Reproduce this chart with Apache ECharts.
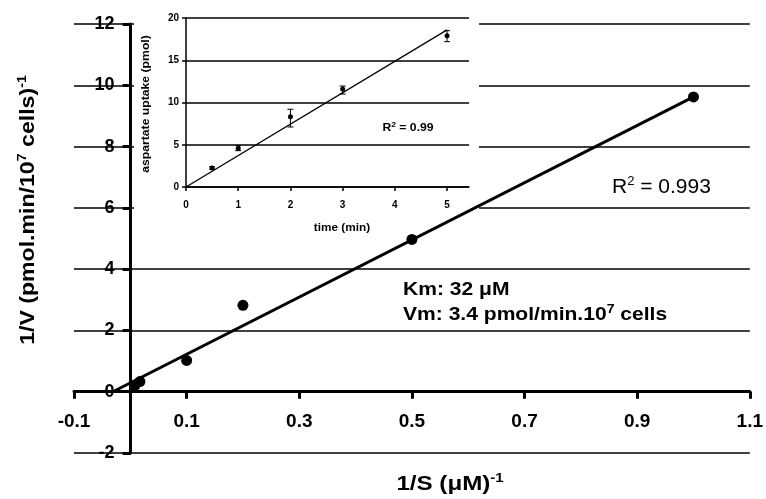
<!DOCTYPE html>
<html>
<head>
<meta charset="utf-8">
<script src="https://cdn.jsdelivr.net/npm/echarts@6/dist/echarts.min.js"></script>
<style>
html, body { margin: 0; padding: 0; background: #fff; }
#main { width: 766px; height: 499px; }
</style>
</head>
<body>
<div id="main"></div>
<script>
var FONT = '"Liberation Sans", Arial, sans-serif';

// main plot: 1/V against 1/S
var invS = [0.008, 0.017, 0.1, 0.2, 0.5, 1.0];
var invV = [0.2, 0.33, 1.02, 2.82, 4.97, 9.62];
// regression line end points
var fitX = [-0.031, 1.0];
var fitY = [0, 9.62];

// inset: aspartate uptake against time
var time = [0.5, 1, 2, 3, 5];
var uptake = [2.25, 4.6, 8.3, 11.6, 17.9];
var errLow = [2.1, 4.3, 7.1, 11.0, 17.2];
var errHigh = [2.4, 4.9, 9.2, 11.95, 18.5];
var insetFitX = [0, 5];
var insetFitY = [0, 18.6];
var insetXTicks = [0, 1, 2, 3, 4, 5];

var myChart = echarts.init(document.getElementById('main'));

var boldLabel = function (size) {
    return { color: '#000', fontSize: size, fontWeight: 'bold', fontFamily: FONT };
};

// the main axes cross at zero: shift them in from the grid edges
// grid is 679 x 429 px for x -0.1..1.1 and y -2..12
var xZeroShift = -(2 / 14) * 429;
var yZeroShift = -(0.1 / 1.2) * 679;

option = {
    backgroundColor: '#fff',
    animation: false,
    grid: [
        { left: 74, right: 13, top: 24, bottom: 46 },
        // inset
        { left: 186, right: 297, top: 18, bottom: 312 }
    ],
    xAxis: [{
        type: 'value', gridIndex: 0, min: -0.1, max: 1.1, interval: 0.2,
        offset: xZeroShift,
        axisLine: { onZero: false, lineStyle: { color: '#000', width: 3 } },
        axisTick: { show: true, length: 7, lineStyle: { color: '#000', width: 3 } },
        axisLabel: Object.assign(boldLabel(19), {
            margin: 21,
            formatter: function (v) { return v.toFixed(1); }
        }),
        splitLine: { show: false }
    }, {
        type: 'value', gridIndex: 1, min: 0, max: 5.42, z: 5,
        axisLine: { lineStyle: { color: '#000', width: 1.5 } },
        axisTick: { show: true, length: 4, customValues: insetXTicks, lineStyle: { color: '#000', width: 1.5 } },
        axisLabel: Object.assign(boldLabel(10), { margin: 13, customValues: insetXTicks }),
        splitLine: { show: false }
    }],
    yAxis: [{
        type: 'value', gridIndex: 0, min: -2, max: 12, interval: 2,
        offset: yZeroShift,
        axisLine: { onZero: false, lineStyle: { color: '#000', width: 3 } },
        axisTick: { show: true, length: 8, lineStyle: { color: '#000', width: 3 } },
        axisLabel: Object.assign(boldLabel(18), { margin: 16 }),
        splitLine: { show: true, lineStyle: { color: '#000', width: 1.5 } }
    }, {
        type: 'value', gridIndex: 1, min: 0, max: 20, interval: 5, z: 5,
        axisLine: { show: true, lineStyle: { color: '#000', width: 1.5 } },
        axisTick: { show: true, length: 4, lineStyle: { color: '#000', width: 1.5 } },
        axisLabel: Object.assign(boldLabel(10), { margin: 7 }),
        splitLine: { show: true, lineStyle: { color: '#000', width: 1.5 } }
    }],
    graphic: [
        // white panel behind the inset
        { type: 'rect', z: 1, shape: { x: 134, y: 0, width: 345, height: 242 }, style: { fill: '#fff' } },
        {
            type: 'text', z: 20, x: 28, y: 210, rotation: Math.PI / 2, scaleX: 1.1,
            style: {
                text: '{a|1/V (pmol.min/10}{s|7}{a| cells)}{s|-1}',
                align: 'center', verticalAlign: 'middle',
                rich: {
                    a: { fontSize: 21, fontWeight: 'bold', fontFamily: FONT, lineHeight: 25, fill: '#000' },
                    s: { fontSize: 13, fontWeight: 'bold', fontFamily: FONT, lineHeight: 25, verticalAlign: 'top', fill: '#000' }
                }
            }
        },
        {
            type: 'text', z: 20, x: 450, y: 484, scaleX: 1.15,
            style: {
                text: '{a|1/S (\u03bcM)}{s|-1}',
                align: 'center', verticalAlign: 'middle',
                rich: {
                    a: { fontSize: 21, fontWeight: 'bold', fontFamily: FONT, lineHeight: 25, fill: '#000' },
                    s: { fontSize: 13, fontWeight: 'bold', fontFamily: FONT, lineHeight: 25, verticalAlign: 'top', fill: '#000' }
                }
            }
        },
        {
            type: 'text', z: 20, x: 612, y: 187,
            style: {
                text: '{a|R}{s|2}{a| = 0.993}',
                align: 'left', verticalAlign: 'middle',
                rich: {
                    a: { fontSize: 21, fontFamily: FONT, lineHeight: 24, fill: '#000' },
                    s: { fontSize: 13, fontFamily: FONT, lineHeight: 24, verticalAlign: 'top', fill: '#000' }
                }
            }
        },
        {
            type: 'text', z: 20, x: 403, y: 290, scaleX: 1.17,
            style: { text: 'Km: 32 \u03bcM', align: 'left', verticalAlign: 'middle', font: 'bold 18px ' + FONT, fill: '#000' }
        },
        {
            type: 'text', z: 20, x: 403, y: 315, scaleX: 1.17,
            style: {
                text: '{a|Vm: 3.4 pmol/min.10}{s|7}{a| cells}',
                align: 'left', verticalAlign: 'middle',
                rich: {
                    a: { fontSize: 18, fontWeight: 'bold', fontFamily: FONT, lineHeight: 22, fill: '#000' },
                    s: { fontSize: 12, fontWeight: 'bold', fontFamily: FONT, lineHeight: 22, verticalAlign: 'top', fill: '#000' }
                }
            }
        },
        // inset texts
        {
            type: 'text', z: 20, x: 408, y: 128, scaleX: 1.22,
            style: {
                text: '{a|R}{s|2}{a| = 0.99}',
                align: 'center', verticalAlign: 'middle',
                rich: {
                    a: { fontSize: 10, fontWeight: 'bold', fontFamily: FONT, lineHeight: 12, fill: '#000' },
                    s: { fontSize: 7, fontWeight: 'bold', fontFamily: FONT, lineHeight: 12, verticalAlign: 'top', fill: '#000' }
                }
            }
        },
        {
            type: 'text', z: 20, x: 146, y: 104, rotation: Math.PI / 2, scaleX: 1.22,
            style: { text: 'aspartate uptake (pmol)', align: 'center', verticalAlign: 'middle', font: 'bold 10px ' + FONT, fill: '#000' }
        },
        {
            type: 'text', z: 20, x: 342, y: 228, scaleX: 1.18,
            style: { text: 'time (min)', align: 'center', verticalAlign: 'middle', font: 'bold 10px ' + FONT, fill: '#000' }
        }
    ],
    series: [{
        name: 'fit', type: 'line', xAxisIndex: 0, yAxisIndex: 0, z: 9,
        data: fitX.map(function (x, i) { return [x, fitY[i]]; }),
        showSymbol: false, silent: true,
        lineStyle: { color: '#000', width: 3 }
    }, {
        name: '1/V', type: 'scatter', xAxisIndex: 0, yAxisIndex: 0, z: 10,
        data: invS.map(function (x, i) { return [x, invV[i]]; }),
        symbolSize: 11,
        itemStyle: { color: '#000', opacity: 1 }
    }, {
        name: 'inset fit', type: 'line', xAxisIndex: 1, yAxisIndex: 1, z: 6,
        data: insetFitX.map(function (x, i) { return [x, insetFitY[i]]; }),
        showSymbol: false, silent: true,
        lineStyle: { color: '#000', width: 1.3 }
    }, {
        name: 'error', type: 'custom', xAxisIndex: 1, yAxisIndex: 1, z: 7,
        encode: { x: 0, y: [1, 2] },
        data: time.map(function (t, i) { return [t, errLow[i], errHigh[i]]; }),
        renderItem: function (params, api) {
            var lo = api.coord([api.value(0), api.value(1)]);
            var hi = api.coord([api.value(0), api.value(2)]);
            var w = 3;
            var st = { stroke: '#000', lineWidth: 1 };
            return {
                type: 'group',
                children: [
                    { type: 'line', shape: { x1: lo[0], y1: lo[1], x2: hi[0], y2: hi[1] }, style: st },
                    { type: 'line', shape: { x1: lo[0] - w, y1: lo[1], x2: lo[0] + w, y2: lo[1] }, style: st },
                    { type: 'line', shape: { x1: hi[0] - w, y1: hi[1], x2: hi[0] + w, y2: hi[1] }, style: st }
                ]
            };
        }
    }, {
        name: 'uptake', type: 'scatter', xAxisIndex: 1, yAxisIndex: 1, z: 8,
        data: time.map(function (t, i) { return [t, uptake[i]]; }),
        symbolSize: 5,
        itemStyle: { color: '#000', opacity: 1 }
    }]
};

myChart.setOption(option);
</script>
</body>
</html>
